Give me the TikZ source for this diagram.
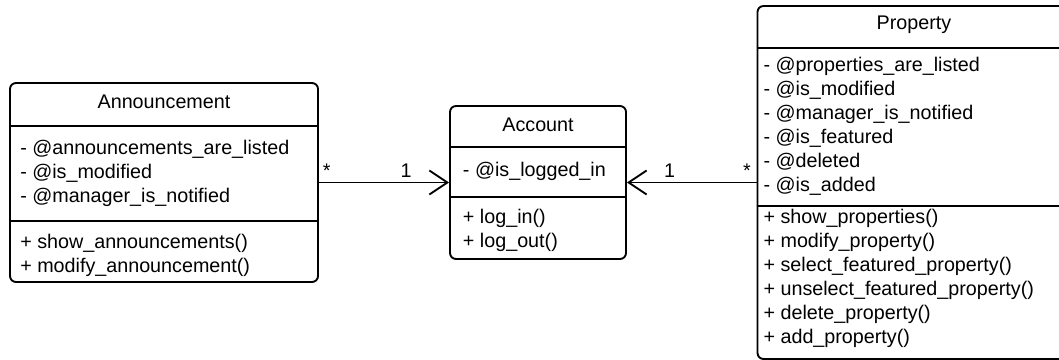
\documentclass[tikz,border=0pt]{standalone}
\usepackage{fontspec}
\setmainfont{Liberation Sans}
\usetikzlibrary{arrows.meta,positioning,calc}
\newcommand{\umlfont}{\fontsize{14.8}{18}\selectfont}
\tikzset{
  classbox/.style={draw, line width=1.4pt, rounded corners=4.5pt, inner sep=0pt},
  ctitle/.style={font=\umlfont, inner sep=0pt, anchor=base},
  cbody/.style={font=\umlfont, align=left, inner sep=0pt, anchor=base west},
  divl/.style={line width=1.4pt},
  assoc/.style={line width=1.4pt, -{Straight Barb[length=13.5pt, width=18pt]}},
  mult/.style={font=\umlfont, inner sep=3pt, above},
}

\begin{document}
\begin{tikzpicture}[x=0.75pt, y=-0.75pt]
\useasboundingbox (0,0) rectangle (1059,360);
% Announcement (body nodes sit on their last baseline)
\node[classbox, minimum width=231pt, minimum height=149.25pt] (ann) at (164,182.5) {};
\draw[divl] (ann.west |- 0,126) -- (ann.east |- 0,126);
\draw[divl] (ann.west |- 0,221) -- (ann.east |- 0,221);
\node[ctitle] (ann-name) at (164,108.3) {Announcement};
\node[cbody] (ann-attr) at (20,202) {- @announcements\_are\_listed\\- @is\_modified\\- @manager\_is\_notified};
\node[cbody] (ann-ops) at (20,272) {+ show\_announcements()\\+ modify\_announcement()};
% Account
\node[classbox, minimum width=132pt, minimum height=114.75pt] (acc) at (538,182.5) {};
\draw[divl] (acc.west |- 0,147) -- (acc.east |- 0,147);
\draw[divl] (acc.west |- 0,197) -- (acc.east |- 0,197);
\node[ctitle] (acc-name) at (538,131) {Account};
\node[cbody] (acc-attr) at (462.7,176.7) {- @is\_logged\_in};
\node[cbody] (acc-ops) at (462.7,247) {+ log\_in()\\+ log\_out()};
% Property (runs off the right edge)
\node[classbox, minimum width=234.75pt, minimum height=264.75pt] (prop) at (914,182.5) {};
\draw[divl] (prop.west |- 0,48) -- (prop.east |- 0,48);
\draw[divl] (prop.west |- 0,206) -- (prop.east |- 0,206);
\node[ctitle] (prop-name) at (914,29.3) {Property};
\node[cbody] (prop-attr) at (763.3,191.7) {- @properties\_are\_listed\\- @is\_modified\\- @manager\_is\_notified\\- @is\_featured\\- @deleted\\- @is\_added};
\node[cbody] (prop-ops) at (763.3,343) {+ show\_properties()\\+ modify\_property()\\+ select\_featured\_property()\\+ unselect\_featured\_property()\\+ delete\_property()\\+ add\_property()};
% associations
\draw[assoc] (ann.east) -- (acc.west) node[mult, pos=0.06] {*} node[mult, pos=0.67] {1};
\draw[assoc] (prop.west) -- (acc.east) node[mult, pos=0.075] {*} node[mult, pos=0.67] {1};
\end{tikzpicture}
\end{document}
